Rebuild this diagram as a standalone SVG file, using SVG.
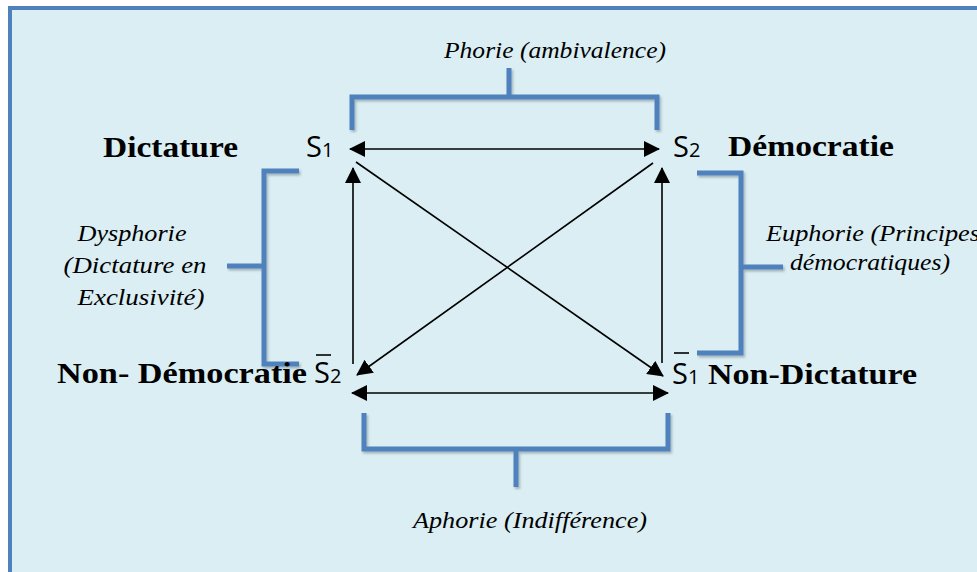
<svg xmlns="http://www.w3.org/2000/svg" width="977" height="572" viewBox="0 0 977 572">
<style>
.bold{font-family:"Liberation Serif",serif;font-weight:bold;font-size:29px;fill:#000}
.it{font-family:"Liberation Serif",serif;font-style:italic;font-size:23px;fill:#000}
.sym{font-family:"Open Sans","DejaVu Sans",sans-serif;font-size:29px;fill:#000}
.sub{font-size:20px}
.br{fill:none;stroke:#4F81BD;stroke-width:5;stroke-linejoin:miter;filter:url(#sh)}
.ar{stroke:#000;stroke-width:1.6;fill:none}
</style>
<defs>
<filter id="sh" x="-20%" y="-20%" width="140%" height="140%">
<feDropShadow dx="1.5" dy="2" stdDeviation="1.2" flood-color="#000" flood-opacity="0.25"/>
</filter>
<marker id="ah" viewBox="0 0 16 16" refX="15" refY="8" markerWidth="16" markerHeight="16" markerUnits="userSpaceOnUse" orient="auto-start-reverse">
<path d="M0,0 L16,8 L0,16 z" fill="#000"/>
</marker>
</defs>
<rect x="0" y="0" width="977" height="572" fill="#fff"/>
<rect x="10" y="8" width="1000" height="600" fill="#DAEEF3" stroke="#4F81BD" stroke-width="4"/>

<g id="connectors">
<line class="ar" x1="350" y1="149" x2="659" y2="149" marker-start="url(#ah)" marker-end="url(#ah)"/>
<line class="ar" x1="352" y1="393" x2="668" y2="393" marker-start="url(#ah)" marker-end="url(#ah)"/>
<line class="ar" x1="353" y1="364" x2="353" y2="168" marker-end="url(#ah)"/>
<line class="ar" x1="662" y1="363" x2="662" y2="168" marker-end="url(#ah)"/>
<line class="ar" x1="356" y1="162" x2="663" y2="376" marker-end="url(#ah)"/>
<line class="ar" x1="653" y1="163" x2="357" y2="375" marker-end="url(#ah)"/>
</g>

<g id="bracket-top">
<path class="br" d="M352,130 V97 H657 V130 M509,97 V68"/>
<text class="it" x="555" y="58" text-anchor="middle" textLength="222" lengthAdjust="spacingAndGlyphs">Phorie (ambivalence)</text>
</g>
<g id="bracket-left">
<path class="br" d="M299,171 H264 V364 H299 M264,266 H227"/>
<text class="it" x="132" y="241" text-anchor="middle" textLength="109" lengthAdjust="spacingAndGlyphs">Dysphorie</text>
<text class="it" x="135" y="273" text-anchor="middle" textLength="143" lengthAdjust="spacingAndGlyphs">(Dictature en</text>
<text class="it" x="141" y="305" text-anchor="middle" textLength="127" lengthAdjust="spacingAndGlyphs">Exclusivité)</text>
</g>
<g id="bracket-right">
<path class="br" d="M697,173 H741 V353 H697 M741,267 H783"/>
<text class="it" x="766" y="241" textLength="214" lengthAdjust="spacingAndGlyphs">Euphorie (Principes</text>
<text class="it" x="870" y="270" text-anchor="middle" textLength="160" lengthAdjust="spacingAndGlyphs">démocratiques)</text>
</g>
<g id="bracket-bottom">
<path class="br" d="M364,413 V449 H668 V413 M516,449 V487"/>
<text class="it" x="530" y="528" text-anchor="middle" textLength="234" lengthAdjust="spacingAndGlyphs">Aphorie (Indifférence)</text>
</g>

<g id="node-s1">
<text class="bold" x="103" y="157" textLength="135" lengthAdjust="spacingAndGlyphs">Dictature</text>
<text class="sym" x="306" y="157">S<tspan class="sub">1</tspan></text>
</g>
<g id="node-s2">
<text class="sym" x="673" y="157">S<tspan class="sub">2</tspan></text>
<text class="bold" x="728" y="156" textLength="166" lengthAdjust="spacingAndGlyphs">Démocratie</text>
</g>
<g id="node-nons2">
<text class="bold" x="57" y="383" textLength="250" lengthAdjust="spacingAndGlyphs">Non- Démocratie</text>
<text class="sym" x="314" y="383">S<tspan class="sub">2</tspan></text>
<line x1="316" y1="355" x2="331" y2="355" stroke="#000" stroke-width="1.6"/>
</g>
<g id="node-nons1">
<text class="sym" x="672" y="384">S<tspan class="sub">1</tspan></text>
<line x1="674" y1="353" x2="689" y2="353" stroke="#000" stroke-width="1.6"/>
<text class="bold" x="708" y="384" textLength="209" lengthAdjust="spacingAndGlyphs">Non-Dictature</text>
</g>
</svg>
